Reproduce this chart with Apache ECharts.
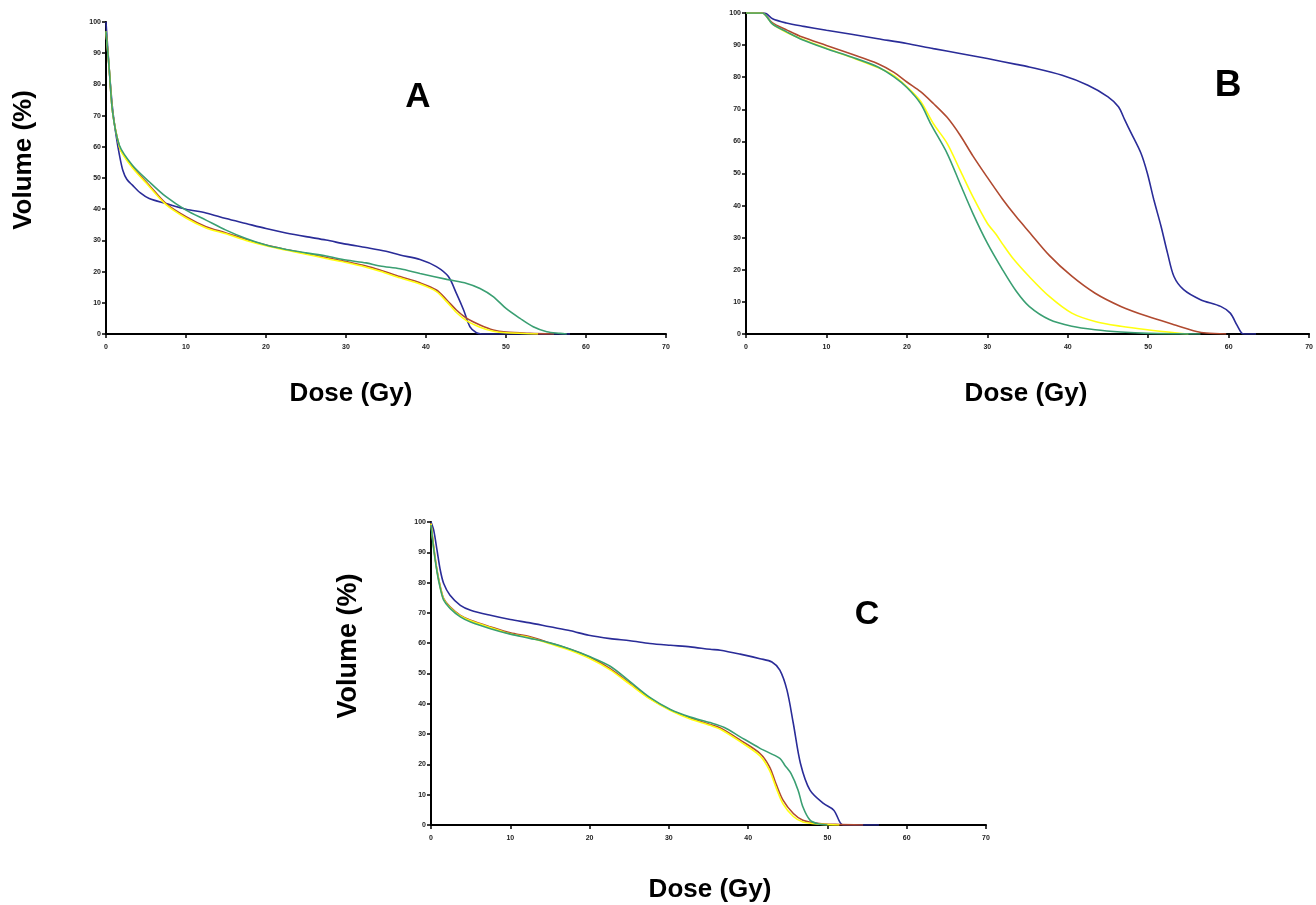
<!DOCTYPE html>
<html><head><meta charset="utf-8">
<script src="https://cdn.jsdelivr.net/npm/echarts@6/dist/echarts.min.js"></script>
<style>html,body{margin:0;padding:0;background:#fff}#c{width:1316px;height:905px}</style>
</head><body><div id="c"></div>
<script>
// Dose (Gy) ticks and volume (%) ticks
const doseTicks = [0,10,20,30,40,50,60,70];
const volTicks = [0,10,20,30,40,50,60,70,80,90,100];
const panelLetters = ['A','B','C'];
const seriesNames = ['Blue','Red','Yellow','Green'];

// Panel A curves: [dose, volume]
const aBlue = [[0,100],[0.4,85],[0.83,72],[1.3,63],[1.67,57.5],[2.1,52.5],[2.6,49.6],[3.3,47.7],[4.3,45.2],[5.4,43.4],[7.5,41.8],[10,40],[12.5,38.8],[15,37],[17.5,35.4],[20,33.8],[22.5,32.4],[25,31.2],[27.5,30.1],[30,28.8],[32.5,27.7],[35,26.5],[36.75,25.3],[39.25,23.9],[41.3,21.6],[42.8,18.4],[43.8,13],[44.7,7.7],[45.5,2.3],[46.3,0.4],[47,0],[58,0]];
const aRed = [[0,97],[0.4,85],[0.83,71],[1.67,60],[2.1,57.8],[3.3,53.6],[5.4,47.7],[7.5,41.8],[10,37.6],[12.5,34.4],[15,32.4],[17.5,30.3],[20,28.5],[22.5,27.1],[25,25.8],[27.5,24.5],[30,23.2],[32.5,21.8],[34.25,20.5],[36.75,18.4],[39.25,16.4],[41.3,14.1],[42.6,10.9],[43.8,7.7],[45.1,5],[46.75,2.9],[48.4,1.3],[50,0.6],[53,0.2],[56,0]];
const aYellow = [[0,97],[0.4,85],[0.83,71],[1.67,60],[2.1,57.6],[3.3,53.3],[5.4,47.3],[7.5,41.5],[10,37.2],[12.5,34],[15,32.1],[17.5,30],[20,28.3],[22.5,26.9],[25,25.6],[27.5,24.2],[30,22.9],[32.5,21.4],[34.25,20.1],[36.75,18],[39.25,16],[41.3,13.6],[42.6,10.3],[43.8,6.9],[45.1,4.2],[46.75,2.2],[48.4,0.9],[50,0.4],[54,0]];
const aGreen = [[0,97],[0.4,85],[0.83,71],[1.67,60.5],[3.3,54.1],[5.4,48.8],[7.5,44],[10,39.7],[12.5,36.5],[15,33.3],[17.5,30.6],[20,28.5],[22.5,27.1],[25,26],[27.5,25],[30,23.7],[32.5,22.8],[34.25,21.8],[36.75,20.9],[39.25,19.4],[42.6,17.5],[45.1,16.2],[46.75,14.6],[48.4,12],[50,8.2],[51.75,5],[53.4,2.3],[55.1,0.7],[56.75,0.2],[57.6,0]];

// Panel B curves
const bBlue = [[0,100],[2.3,100],[3.3,98.2],[5,96.9],[7,95.9],[10,94.6],[13.1,93.4],[16.4,92],[20,90.5],[23.3,88.9],[26.6,87.4],[30,85.8],[33.6,84],[35.2,83.2],[39.3,80.6],[42.5,77.5],[45,73.9],[46.3,70.8],[47.1,66.6],[47.9,62.5],[49.1,56.3],[49.9,50],[50.7,41.8],[51.6,33.5],[52.4,25.2],[53.2,17.9],[54.4,13.8],[56.5,10.7],[59,8.6],[60.2,6.5],[61,2.9],[61.6,0.3],[62,0],[63.4,0]];
const bRed = [[0,100],[2,100],[3.3,96.9],[5,94.8],[7,92.5],[10,89.9],[13.1,87.2],[16.4,84.2],[18.4,81.5],[20,78.5],[21.7,75.5],[23.3,71.8],[25,67.5],[26.6,62],[28.2,55.5],[30,48.8],[31.9,42],[33.6,36.5],[35.2,31.8],[37.7,24.5],[40.5,18],[43.4,12.7],[46.6,8.6],[49.9,5.5],[53.2,2.9],[56,0.8],[57.2,0.3],[59.7,0]];
const bYellow = [[0,100],[2,100],[3.3,96.5],[5,94],[7,91.8],[10,89],[13.1,86.2],[16.4,83],[18.4,80.5],[20,77],[21.7,72.5],[23.3,65.5],[25,59.4],[26.6,51.1],[28.2,42.8],[30,34.5],[31.1,31],[31.9,28],[33.2,23.5],[35.2,17.9],[37.7,11.7],[40.5,6.5],[43.4,3.9],[46.6,2.4],[49.9,1.3],[53.6,0.3],[55,0]];
const bGreen = [[0,100],[2,100],[3.3,96.5],[5,94.2],[7,91.7],[10,88.9],[13.1,86.3],[16.4,83.2],[18.4,80.1],[20,76.8],[21.7,71.8],[23,65.3],[25,56.3],[26.6,46.9],[28.2,37.6],[30,28.3],[31.9,20],[33.6,13.3],[35.2,8.6],[37.7,4.5],[40.5,2.4],[43.4,1.3],[46.6,0.6],[50,0.2],[56.5,0]];

// Panel C curves
const cBlue = [[0,100],[0.34,97.3],[0.76,90.7],[1.18,84],[1.6,79.7],[2.4,75.8],[3.7,72.5],[5,70.9],[7.5,69.2],[10,67.8],[12.5,66.7],[15,65.4],[17.6,64.1],[19.9,62.6],[22.6,61.5],[25.1,60.8],[27.6,59.9],[30.2,59.3],[32.7,58.8],[35.2,58],[36.5,57.7],[39,56.4],[41.5,54.9],[43,53.8],[44,51.1],[44.9,44.5],[45.7,33.5],[46.6,20.3],[47.8,11.5],[49.5,7.1],[50.8,4.9],[51.6,0.8],[52,0],[56.5,0]];
const cRed = [[0,99.5],[0.34,91.8],[0.76,84],[1.18,78.6],[1.6,74.7],[2.4,72],[3.7,69.2],[5,67.6],[7.5,65.4],[10,63.4],[12.5,62.1],[15,60.1],[17.6,57.9],[19.9,55.5],[22.6,51.6],[25.1,46.7],[27.6,41.8],[30.2,38],[32.7,35.3],[35.2,33.2],[36.5,32],[39,28],[41.5,23.6],[42.7,19.2],[43.5,13.7],[44.4,8.2],[45.7,3.8],[46.9,1.6],[49,0.5],[51,0.2],[54.5,0]];
const cYellow = [[0,99.5],[0.34,91.5],[0.76,83.8],[1.18,78.4],[1.6,74.5],[2.4,71.8],[3.7,69],[5,67.4],[7.5,65.2],[10,63.1],[12.5,61.8],[15,59.8],[17.6,57.6],[19.9,55.1],[22.6,51.2],[25.1,46.4],[27.6,41.6],[30.2,37.8],[32.7,35],[35.2,32.9],[36.5,31.6],[39,27.5],[41.5,22.8],[42.7,18],[43.5,12.5],[44.4,7],[45.7,2.8],[46.9,1],[49,0.3],[51.5,0]];
const cGreen = [[0,99],[0.34,91],[0.76,83.5],[1.18,78],[1.6,74.2],[2.4,71.5],[3.7,68.7],[5,67],[7.5,64.8],[10,63],[12.5,61.6],[15,60.1],[17.6,58],[19.9,55.7],[22.6,52.4],[25.1,47.3],[27.6,42.1],[30.2,38.1],[32.7,35.6],[35.2,33.8],[37,32.2],[39,29.1],[41.5,25.3],[44,22],[44.6,19.8],[45.4,17],[46.3,11.5],[46.9,6],[47.8,1.6],[48.9,0.3],[50,0]];

const panels = [[aBlue,aRed,aYellow,aGreen],[bBlue,bRed,bYellow,bGreen],[cBlue,cRed,cYellow,cGreen]];
const colors = ['#2a2c98','#b04a30','#ffff10','#3a9f72'];

const grids = [
  {left:106, top:22, width:560, height:312},
  {left:746, top:13, width:571, height:321},
  {left:431, top:522, width:555, height:303}
];

const axisCommon = {
  axisLine:{show:true,onZero:false,lineStyle:{color:'#000',width:2}},
  axisTick:{show:true,inside:false,length:4,lineStyle:{color:'#000',width:1.5}},
  splitLine:{show:false},
  axisLabel:{fontSize:7,fontWeight:'bold',color:'#222',fontFamily:'Liberation Sans, Arial, sans-serif'}
};

const xAxes = grids.map((g,i)=>Object.assign({},axisCommon,{type:'value',gridIndex:i,min:doseTicks[0],max:doseTicks[doseTicks.length-1],interval:10,
  axisLabel:Object.assign({},axisCommon.axisLabel,{margin:10,showMaxLabel:true})}));
const yAxes = grids.map((g,i)=>Object.assign({},axisCommon,{type:'value',gridIndex:i,min:volTicks[0],max:volTicks[volTicks.length-1],interval:10,
  axisLabel:Object.assign({},axisCommon.axisLabel,{margin:5})}));

const series = [];
panels.forEach((p,i)=>p.forEach((d,j)=>series.push({
  type:'line', name:panelLetters[i]+' '+seriesNames[j], xAxisIndex:i, yAxisIndex:i, data:d,
  showSymbol:false, smooth:0.3, lineStyle:{color:colors[j],width:1.6}, itemStyle:{color:colors[j]}, z:2+j, animation:false
})));

const font = 'Liberation Sans, Arial, sans-serif';
const txt = (x,y,s,size,rot)=>({type:'text',x:x,y:y,rotation:rot||0,
  style:{text:s,font:'bold '+size+'px '+font,fill:'#000',textAlign:'center',textVerticalAlign:'middle'}});

const graphic = [
  txt(24,160,'Volume (%)',26,Math.PI/2),
  txt(351,394,'Dose (Gy)',26),
  txt(1026,394,'Dose (Gy)',26),
  txt(349,646,'Volume (%)',27,Math.PI/2),
  txt(710,890,'Dose (Gy)',26),
  txt(418,97,panelLetters[0],35),
  txt(1228,86,panelLetters[1],37),
  txt(867,615,panelLetters[2],34)
];

const chart = echarts.init(document.getElementById('c'),null,{renderer:'canvas'});
chart.setOption({animation:false,backgroundColor:'#fff',grid:grids,xAxis:xAxes,yAxis:yAxes,series:series,graphic:graphic});
</script></body></html>
